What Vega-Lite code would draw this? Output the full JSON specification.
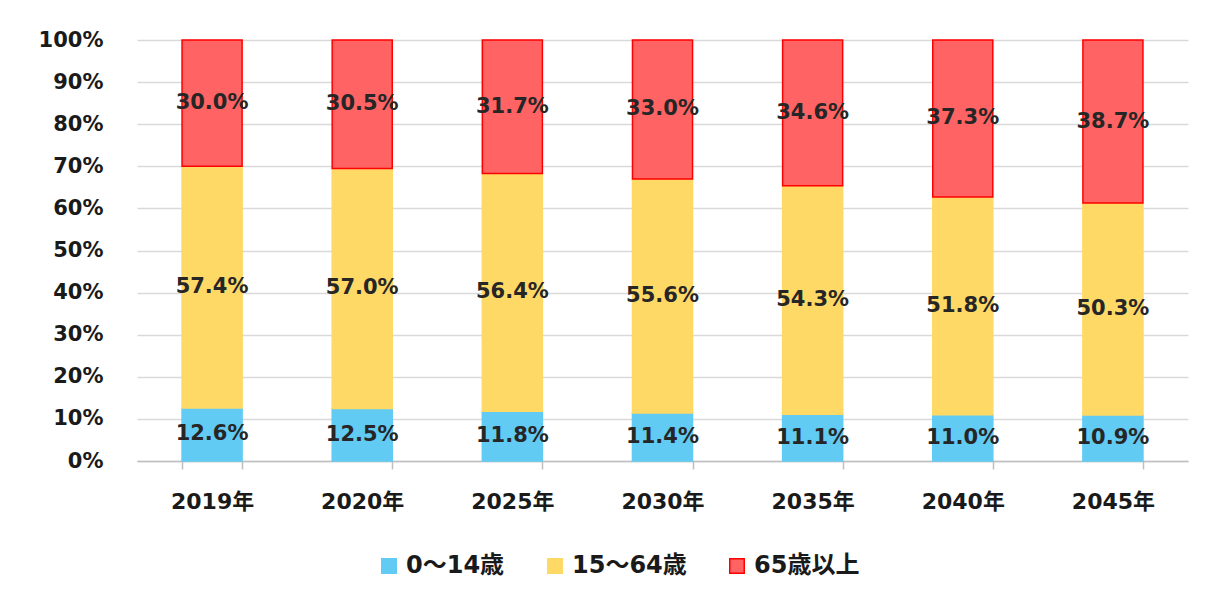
{
  "$schema": "https://vega.github.io/schema/vega-lite/v6.json",
  "autosize": {"type": "none"},
  "width": 1051,
  "height": 421,
  "padding": {"left": 137, "top": 40, "right": 23, "bottom": 141},
  "background": "#ffffff",
  "config": {
    "font": "DejaVu Sans, Noto Sans CJK JP",
    "view": {"stroke": null}
  },
  "data": {
    "values": [
      {"year": "2019年", "group": "0～14歳", "order": 1, "value": 12.6, "label": "12.6%"},
      {"year": "2019年", "group": "15～64歳", "order": 2, "value": 57.4, "label": "57.4%"},
      {"year": "2019年", "group": "65歳以上", "order": 3, "value": 30.0, "label": "30.0%"},
      {"year": "2020年", "group": "0～14歳", "order": 1, "value": 12.5, "label": "12.5%"},
      {"year": "2020年", "group": "15～64歳", "order": 2, "value": 57.0, "label": "57.0%"},
      {"year": "2020年", "group": "65歳以上", "order": 3, "value": 30.5, "label": "30.5%"},
      {"year": "2025年", "group": "0～14歳", "order": 1, "value": 11.8, "label": "11.8%"},
      {"year": "2025年", "group": "15～64歳", "order": 2, "value": 56.4, "label": "56.4%"},
      {"year": "2025年", "group": "65歳以上", "order": 3, "value": 31.7, "label": "31.7%"},
      {"year": "2030年", "group": "0～14歳", "order": 1, "value": 11.4, "label": "11.4%"},
      {"year": "2030年", "group": "15～64歳", "order": 2, "value": 55.6, "label": "55.6%"},
      {"year": "2030年", "group": "65歳以上", "order": 3, "value": 33.0, "label": "33.0%"},
      {"year": "2035年", "group": "0～14歳", "order": 1, "value": 11.1, "label": "11.1%"},
      {"year": "2035年", "group": "15～64歳", "order": 2, "value": 54.3, "label": "54.3%"},
      {"year": "2035年", "group": "65歳以上", "order": 3, "value": 34.6, "label": "34.6%"},
      {"year": "2040年", "group": "0～14歳", "order": 1, "value": 11.0, "label": "11.0%"},
      {"year": "2040年", "group": "15～64歳", "order": 2, "value": 51.8, "label": "51.8%"},
      {"year": "2040年", "group": "65歳以上", "order": 3, "value": 37.3, "label": "37.3%"},
      {"year": "2045年", "group": "0～14歳", "order": 1, "value": 10.9, "label": "10.9%"},
      {"year": "2045年", "group": "15～64歳", "order": 2, "value": 50.3, "label": "50.3%"},
      {"year": "2045年", "group": "65歳以上", "order": 3, "value": 38.7, "label": "38.7%"}
    ]
  },
  "transform": [
    {"stack": "value", "groupby": ["year"], "sort": [{"field": "order", "order": "ascending"}], "offset": "normalize", "as": ["v0", "v1"]},
    {"calculate": "(datum.v0 + datum.v1) / 2", "as": "mid"}
  ],
  "encoding": {
    "x": {
      "field": "year",
      "type": "nominal",
      "sort": null,
      "title": null,
      "scale": {"paddingInner": 0.6, "paddingOuter": 0.3},
      "axis": {
        "labelAngle": 0,
        "labelFont": "DejaVu Sans, Noto Sans CJK JP",
        "labelFontSize": 22,
        "labelFontWeight": "bold",
        "labelColor": "#1a1a1a",
        "labelPadding": 22,
        "domainColor": "#bfbfbf",
        "domainWidth": 1.5,
        "tickColor": "#bfbfbf",
        "tickWidth": 1.5,
        "tickSize": 8,
        "tickBand": "extent",
        "grid": false
      }
    }
  },
  "layer": [
    {
      "mark": {"type": "bar", "strokeWidth": 1.5},
      "encoding": {
        "y": {
          "field": "v0",
          "type": "quantitative",
          "title": null,
          "scale": {"domain": [0, 1]},
          "axis": {
            "format": ".0%",
            "values": [0, 0.1, 0.2, 0.3, 0.4, 0.5, 0.6, 0.7, 0.8, 0.9, 1],
            "labelOverlap": false,
            "domain": false,
            "ticks": false,
            "labelFont": "DejaVu Sans",
            "labelFontSize": 21,
            "labelFontWeight": "bold",
            "labelColor": "#1a1a1a",
            "labelPadding": 34,
            "gridColor": "#d9d9d9",
            "gridWidth": 1.5
          }
        },
        "y2": {"field": "v1"},
        "fill": {
          "field": "group",
          "type": "nominal",
          "sort": ["0～14歳", "15～64歳", "65歳以上"],
          "scale": {"domain": ["0～14歳", "15～64歳", "65歳以上"], "range": ["#61CBF4", "#FFD966", "#FF6363"]},
          "legend": {
            "title": null,
            "orient": "none",
            "direction": "horizontal",
            "legendX": 240,
            "legendY": 514,
            "symbolType": "square",
            "symbolSize": 210,
            "symbolStrokeWidth": 1.5,
            "symbolOpacity": 1,
            "labelFont": "DejaVu Sans, Noto Sans CJK JP",
            "labelFontSize": 24,
            "labelFontWeight": "bold",
            "labelColor": "#1a1a1a",
            "labelOffset": 5,
            "labelLimit": 300,
            "columnPadding": 38
          }
        },
        "stroke": {
          "field": "group",
          "type": "nominal",
          "sort": ["0～14歳", "15～64歳", "65歳以上"],
          "scale": {"domain": ["0～14歳", "15～64歳", "65歳以上"], "range": ["#61CBF4", "#FFD966", "#FF0000"]},
          "legend": {
            "title": null,
            "orient": "none",
            "direction": "horizontal",
            "legendX": 240,
            "legendY": 514,
            "symbolType": "square",
            "symbolSize": 210,
            "symbolStrokeWidth": 1.5,
            "labelFont": "DejaVu Sans, Noto Sans CJK JP",
            "labelFontSize": 24,
            "labelFontWeight": "bold",
            "labelColor": "#1a1a1a",
            "labelOffset": 5,
            "labelLimit": 300,
            "columnPadding": 38
          }
        },
        "order": {"field": "order"}
      }
    },
    {
      "mark": {"type": "text", "font": "DejaVu Sans", "fontSize": 21, "fontWeight": "bold", "color": "#262626", "baseline": "middle", "align": "center"},
      "encoding": {
        "y": {"field": "mid", "type": "quantitative"},
        "text": {"field": "label", "type": "nominal"}
      }
    }
  ]
}
